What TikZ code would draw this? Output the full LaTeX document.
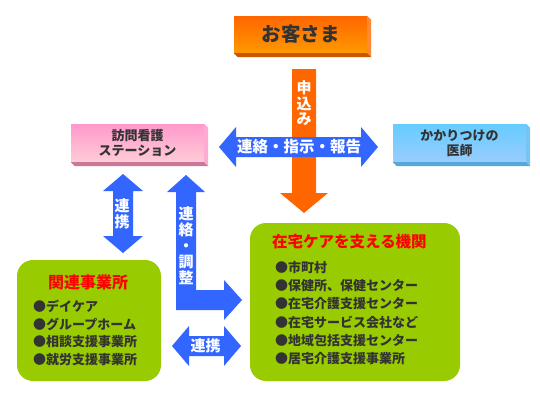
\documentclass[tikz,border=0pt]{standalone}
\usepackage{fontspec}
\setmainfont{Noto Sans CJK JP}
\definecolor{dk}{HTML}{333333}
\definecolor{redt}{HTML}{FF0000}
\definecolor{orA}{HTML}{FF6600}
\definecolor{orB}{HTML}{FF9900}
\definecolor{orSide}{HTML}{FF8833}
\definecolor{orBot}{HTML}{CC5500}
\definecolor{pkA}{HTML}{FF99CC}
\definecolor{pkB}{HTML}{FFCCD6}
\definecolor{pkSide}{HTML}{FFAAD2}
\definecolor{pkBot}{HTML}{CC7799}
\definecolor{lbA}{HTML}{66CCFF}
\definecolor{lbB}{HTML}{99CCFF}
\definecolor{lbSide}{HTML}{77C4F2}
\definecolor{lbBot}{HTML}{55A8D8}
\definecolor{blA}{HTML}{3366FF}
\definecolor{grA}{HTML}{99CC00}
\tikzset{
  facebox/.style={draw=none, inner sep=0pt, minimum width=133pt, minimum height=38pt, align=center, text=dk, font=\bfseries\fontsize{13}{15}\selectfont},
  greenbox/.style={fill=grA, draw=none, rounded corners=16pt, inner sep=0pt},
  bluearrow/.style={fill=blA},
  orarrow/.style={fill=orA},
  arrowtxt/.style={text=white, inner sep=0pt, align=center, font=\bfseries\fontsize{15}{16}\selectfont},
  item/.style={anchor=west, inner sep=0pt, text=dk, font=\bfseries\fontsize{13}{15}\selectfont},
  gtitle/.style={inner sep=0pt, text=redt, font=\bfseries\fontsize{15.5}{17}\selectfont}
}
\begin{document}
\begin{tikzpicture}[x=1pt,y=-1pt]
\useasboundingbox[fill=white] (0,0) rectangle (540,400);

% customer box
\node[facebox, minimum height=37pt, top color=orA, bottom color=orB, font=\bfseries\fontsize{19.5}{20}\selectfont] (cust) at (300.5,34.5) {お客さま};
\fill[orSide] (cust.north east) -- ([shift={(4,4)}]cust.north east) -- ([shift={(4,4)}]cust.south east) -- (cust.south east) -- cycle;
\fill[orBot] (cust.south west) -- (cust.south east) -- ([shift={(4,4)}]cust.south east) -- ([shift={(4,4)}]cust.south west) -- cycle;

% nursing station
\node[facebox, top color=pkA, bottom color=pkB] (nurse) at (137.5,143) {訪問看護\\ステーション};
\fill[pkSide] (nurse.north east) -- ([shift={(4,4)}]nurse.north east) -- ([shift={(4,4)}]nurse.south east) -- (nurse.south east) -- cycle;
\fill[pkBot] (nurse.south west) -- (nurse.south east) -- ([shift={(4,4)}]nurse.south east) -- ([shift={(4,4)}]nurse.south west) -- cycle;

% doctor
\node[facebox, top color=lbA, bottom color=lbB] (doc) at (459.5,143) {かかりつけの\\医師};
\fill[lbSide] (doc.north east) -- ([shift={(4,4)}]doc.north east) -- ([shift={(4,4)}]doc.south east) -- (doc.south east) -- cycle;
\fill[lbBot] (doc.south west) -- (doc.south east) -- ([shift={(4,4)}]doc.south east) -- ([shift={(4,4)}]doc.south west) -- cycle;

% orange application arrow
\fill[orarrow] (292,69) -- (316,69) -- (316,193) -- (328,193) -- (304,213) -- (280,193) -- (292,193) -- cycle;
\node[arrowtxt, font=\bfseries\fontsize{15}{15.5}\selectfont] (apply) at (304,103.5) {申\\込\\み};

% blue horizontal arrow
\fill[bluearrow] (219,147) -- (236,127) -- (236,137) -- (361,137) -- (361,127) -- (378,147) -- (361,167) -- (361,157) -- (236,157) -- (236,167) -- cycle;
\node[arrowtxt, font=\bfseries\fontsize{15.5}{16}\selectfont] (contact) at (299,147) {連絡・指示・報告};

% left vertical arrow
\fill[bluearrow] (123,174) -- (143,191) -- (133,191) -- (133,236) -- (143,236) -- (123,253) -- (103,236) -- (113,236) -- (113,191) -- (103,191) -- cycle;
\node[arrowtxt] (coopA) at (122,214) {連\\携};

% L arrow
\fill[bluearrow] (186,175) -- (205,192) -- (196,192) -- (196,290) -- (224,290) -- (224,280) -- (242,300) -- (224,320) -- (224,310) -- (176,310) -- (176,192) -- (167,192) -- cycle;
\node[arrowtxt] (adjust) at (186,246) {連\\絡\\・\\調\\整};

% bottom arrow
\fill[bluearrow] (172,346) -- (189,326) -- (189,336) -- (224,336) -- (224,326) -- (241,346) -- (224,366) -- (224,356) -- (189,356) -- (189,366) -- cycle;
\node[arrowtxt] (coopB) at (205.5,346) {連携};

% left green box
\node[greenbox, minimum width=144pt, minimum height=121pt] (rel) at (89,320.5) {};
\node[gtitle, font=\bfseries\fontsize{16}{17}\selectfont] (relt) at (88,282) {関連事業所};
\node[item] (r1) at (33,306) {●デイケア};
\node[item] (r2) at (33,324) {●グループホーム};
\node[item] (r3) at (33,342) {●相談支援事業所};
\node[item] (r4) at (33,360) {●就労支援事業所};

% right green box
\node[greenbox, minimum width=210pt, minimum height=158pt] (home) at (355,302) {};
\node[gtitle, anchor=west] (homet) at (272,242) {在宅ケアを支える機関};
\node[item] (h1) at (275,268) {●市町村};
\node[item] (h2) at (275,286) {●保健所、保健センター};
\node[item] (h3) at (275,304) {●在宅介護支援センター};
\node[item] (h4) at (275,322) {●在宅サービス会社など};
\node[item] (h5) at (275,341) {●地域包括支援センター};
\node[item] (h6) at (275,359) {●居宅介護支援事業所};
\end{tikzpicture}
\end{document}
